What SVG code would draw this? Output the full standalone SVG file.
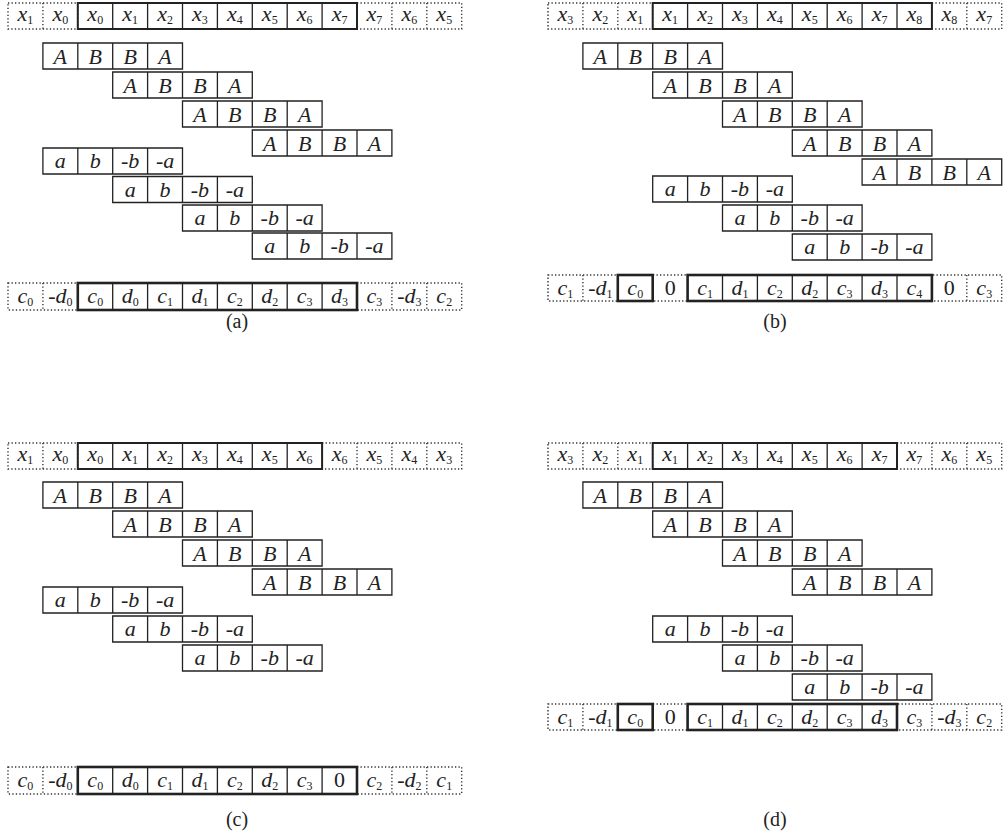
<svg xmlns="http://www.w3.org/2000/svg" width="1005" height="832" viewBox="0 0 1005 832">
<g id="panel-a" font-family="Liberation Serif" font-style="italic" font-size="22" text-anchor="middle" fill="#222" transform="translate(8,0)">
  <g id="a-x" transform="translate(0,3)">
    <path fill="none" stroke="#333" stroke-width="1.4" stroke-dasharray="1.3 2.2" d="M0 0H69.8V26H0ZM34.9 0V26M349 0H453.7V26H349ZM383.9 0V26M418.8 0V26"/>
    <path fill="none" stroke="#222" stroke-width="1.3" d="M104.7 0V26M139.6 0V26M174.5 0V26M209.4 0V26M244.3 0V26M279.2 0V26M314.1 0V26"/>
    <rect fill="none" stroke="#222" stroke-width="2" x="69.8" y="0" width="279.2" height="26"/>
    <text x="17.45" y="18">x<tspan font-size="12" font-style="normal" dy="3">1</tspan></text>
    <text x="52.35" y="18">x<tspan font-size="12" font-style="normal" dy="3">0</tspan></text>
    <text x="87.25" y="18">x<tspan font-size="12" font-style="normal" dy="3">0</tspan></text>
    <text x="122.15" y="18">x<tspan font-size="12" font-style="normal" dy="3">1</tspan></text>
    <text x="157.05" y="18">x<tspan font-size="12" font-style="normal" dy="3">2</tspan></text>
    <text x="191.95" y="18">x<tspan font-size="12" font-style="normal" dy="3">3</tspan></text>
    <text x="226.85" y="18">x<tspan font-size="12" font-style="normal" dy="3">4</tspan></text>
    <text x="261.75" y="18">x<tspan font-size="12" font-style="normal" dy="3">5</tspan></text>
    <text x="296.65" y="18">x<tspan font-size="12" font-style="normal" dy="3">6</tspan></text>
    <text x="331.55" y="18">x<tspan font-size="12" font-style="normal" dy="3">7</tspan></text>
    <text x="366.45" y="18">x<tspan font-size="12" font-style="normal" dy="3">7</tspan></text>
    <text x="401.35" y="18">x<tspan font-size="12" font-style="normal" dy="3">6</tspan></text>
    <text x="436.25" y="18">x<tspan font-size="12" font-style="normal" dy="3">5</tspan></text>
  </g>
  <g id="a-A1" transform="translate(34.9,43)"><path fill="none" stroke="#222" stroke-width="1.3" d="M0 0H139.6V26H0ZM34.9 0V26M69.8 0V26M104.7 0V26"/><text x="17.45" y="21">A</text><text x="52.35" y="21">B</text><text x="87.25" y="21">B</text><text x="122.15" y="21">A</text></g>
  <g id="a-A2" transform="translate(104.7,72)"><path fill="none" stroke="#222" stroke-width="1.3" d="M0 0H139.6V26H0ZM34.9 0V26M69.8 0V26M104.7 0V26"/><text x="17.45" y="21">A</text><text x="52.35" y="21">B</text><text x="87.25" y="21">B</text><text x="122.15" y="21">A</text></g>
  <g id="a-A3" transform="translate(174.5,101)"><path fill="none" stroke="#222" stroke-width="1.3" d="M0 0H139.6V26H0ZM34.9 0V26M69.8 0V26M104.7 0V26"/><text x="17.45" y="21">A</text><text x="52.35" y="21">B</text><text x="87.25" y="21">B</text><text x="122.15" y="21">A</text></g>
  <g id="a-A4" transform="translate(244.3,130)"><path fill="none" stroke="#222" stroke-width="1.3" d="M0 0H139.6V26H0ZM34.9 0V26M69.8 0V26M104.7 0V26"/><text x="17.45" y="21">A</text><text x="52.35" y="21">B</text><text x="87.25" y="21">B</text><text x="122.15" y="21">A</text></g>
  <g id="a-a1" transform="translate(34.9,148)"><path fill="none" stroke="#222" stroke-width="1.3" d="M0 0H139.6V26H0ZM34.9 0V26M69.8 0V26M104.7 0V26"/><text x="17.45" y="20">a</text><text x="52.35" y="20">b</text><text x="87.25" y="20">-b</text><text x="122.15" y="20">-a</text></g>
  <g id="a-a2" transform="translate(104.7,176.5)"><path fill="none" stroke="#222" stroke-width="1.3" d="M0 0H139.6V26H0ZM34.9 0V26M69.8 0V26M104.7 0V26"/><text x="17.45" y="20">a</text><text x="52.35" y="20">b</text><text x="87.25" y="20">-b</text><text x="122.15" y="20">-a</text></g>
  <g id="a-a3" transform="translate(174.5,205)"><path fill="none" stroke="#222" stroke-width="1.3" d="M0 0H139.6V26H0ZM34.9 0V26M69.8 0V26M104.7 0V26"/><text x="17.45" y="20">a</text><text x="52.35" y="20">b</text><text x="87.25" y="20">-b</text><text x="122.15" y="20">-a</text></g>
  <g id="a-a4" transform="translate(244.3,233)"><path fill="none" stroke="#222" stroke-width="1.3" d="M0 0H139.6V26H0ZM34.9 0V26M69.8 0V26M104.7 0V26"/><text x="17.45" y="20">a</text><text x="52.35" y="20">b</text><text x="87.25" y="20">-b</text><text x="122.15" y="20">-a</text></g>
  <g id="a-c" transform="translate(0,283)">
    <path fill="none" stroke="#333" stroke-width="1.4" stroke-dasharray="1.3 2.2" d="M0 0H69.8V27H0ZM34.9 0V27M349 0H453.7V27H349ZM383.9 0V27M418.8 0V27"/>
    <path fill="none" stroke="#222" stroke-width="1.3" d="M104.7 0V27M139.6 0V27M174.5 0V27M209.4 0V27M244.3 0V27M279.2 0V27M314.1 0V27"/>
    <rect fill="none" stroke="#222" stroke-width="2.6" x="69.8" y="0" width="279.2" height="27"/>
    <text x="17.45" y="20">c<tspan font-size="12" font-style="normal" dy="3">0</tspan></text>
    <text x="52.35" y="20">-d<tspan font-size="12" font-style="normal" dy="3">0</tspan></text>
    <text x="87.25" y="20">c<tspan font-size="12" font-style="normal" dy="3">0</tspan></text>
    <text x="122.15" y="20">d<tspan font-size="12" font-style="normal" dy="3">0</tspan></text>
    <text x="157.05" y="20">c<tspan font-size="12" font-style="normal" dy="3">1</tspan></text>
    <text x="191.95" y="20">d<tspan font-size="12" font-style="normal" dy="3">1</tspan></text>
    <text x="226.85" y="20">c<tspan font-size="12" font-style="normal" dy="3">2</tspan></text>
    <text x="261.75" y="20">d<tspan font-size="12" font-style="normal" dy="3">2</tspan></text>
    <text x="296.65" y="20">c<tspan font-size="12" font-style="normal" dy="3">3</tspan></text>
    <text x="331.55" y="20">d<tspan font-size="12" font-style="normal" dy="3">3</tspan></text>
    <text x="366.45" y="20">c<tspan font-size="12" font-style="normal" dy="3">3</tspan></text>
    <text x="401.35" y="20">-d<tspan font-size="12" font-style="normal" dy="3">3</tspan></text>
    <text x="436.25" y="20">c<tspan font-size="12" font-style="normal" dy="3">2</tspan></text>
  </g>
</g>
<text id="label-a" font-family="Liberation Serif" font-size="20" text-anchor="middle" fill="#222" x="237" y="328">(a)</text>

<g id="panel-b" font-family="Liberation Serif" font-style="italic" font-size="22" text-anchor="middle" fill="#222" transform="translate(548,0)">
  <g id="b-x" transform="translate(0,3)">
    <path fill="none" stroke="#333" stroke-width="1.4" stroke-dasharray="1.3 2.2" d="M0 0H104.7V26H0ZM34.9 0V26M69.8 0V26M383.9 0H453.7V26H383.9ZM418.8 0V26"/>
    <path fill="none" stroke="#222" stroke-width="1.3" d="M139.6 0V26M174.5 0V26M209.4 0V26M244.3 0V26M279.2 0V26M314.1 0V26M349 0V26"/>
    <rect fill="none" stroke="#222" stroke-width="2" x="104.7" y="0" width="279.2" height="26"/>
    <text x="17.45" y="18">x<tspan font-size="12" font-style="normal" dy="3">3</tspan></text>
    <text x="52.35" y="18">x<tspan font-size="12" font-style="normal" dy="3">2</tspan></text>
    <text x="87.25" y="18">x<tspan font-size="12" font-style="normal" dy="3">1</tspan></text>
    <text x="122.15" y="18">x<tspan font-size="12" font-style="normal" dy="3">1</tspan></text>
    <text x="157.05" y="18">x<tspan font-size="12" font-style="normal" dy="3">2</tspan></text>
    <text x="191.95" y="18">x<tspan font-size="12" font-style="normal" dy="3">3</tspan></text>
    <text x="226.85" y="18">x<tspan font-size="12" font-style="normal" dy="3">4</tspan></text>
    <text x="261.75" y="18">x<tspan font-size="12" font-style="normal" dy="3">5</tspan></text>
    <text x="296.65" y="18">x<tspan font-size="12" font-style="normal" dy="3">6</tspan></text>
    <text x="331.55" y="18">x<tspan font-size="12" font-style="normal" dy="3">7</tspan></text>
    <text x="366.45" y="18">x<tspan font-size="12" font-style="normal" dy="3">8</tspan></text>
    <text x="401.35" y="18">x<tspan font-size="12" font-style="normal" dy="3">8</tspan></text>
    <text x="436.25" y="18">x<tspan font-size="12" font-style="normal" dy="3">7</tspan></text>
  </g>
  <g id="b-A1" transform="translate(34.9,43)"><path fill="none" stroke="#222" stroke-width="1.3" d="M0 0H139.6V26H0ZM34.9 0V26M69.8 0V26M104.7 0V26"/><text x="17.45" y="21">A</text><text x="52.35" y="21">B</text><text x="87.25" y="21">B</text><text x="122.15" y="21">A</text></g>
  <g id="b-A2" transform="translate(104.7,72)"><path fill="none" stroke="#222" stroke-width="1.3" d="M0 0H139.6V26H0ZM34.9 0V26M69.8 0V26M104.7 0V26"/><text x="17.45" y="21">A</text><text x="52.35" y="21">B</text><text x="87.25" y="21">B</text><text x="122.15" y="21">A</text></g>
  <g id="b-A3" transform="translate(174.5,101)"><path fill="none" stroke="#222" stroke-width="1.3" d="M0 0H139.6V26H0ZM34.9 0V26M69.8 0V26M104.7 0V26"/><text x="17.45" y="21">A</text><text x="52.35" y="21">B</text><text x="87.25" y="21">B</text><text x="122.15" y="21">A</text></g>
  <g id="b-A4" transform="translate(244.3,130)"><path fill="none" stroke="#222" stroke-width="1.3" d="M0 0H139.6V26H0ZM34.9 0V26M69.8 0V26M104.7 0V26"/><text x="17.45" y="21">A</text><text x="52.35" y="21">B</text><text x="87.25" y="21">B</text><text x="122.15" y="21">A</text></g>
  <g id="b-A5" transform="translate(314.1,159)"><path fill="none" stroke="#222" stroke-width="1.3" d="M0 0H139.6V26H0ZM34.9 0V26M69.8 0V26M104.7 0V26"/><text x="17.45" y="21">A</text><text x="52.35" y="21">B</text><text x="87.25" y="21">B</text><text x="122.15" y="21">A</text></g>
  <g id="b-a1" transform="translate(104.7,176)"><path fill="none" stroke="#222" stroke-width="1.3" d="M0 0H139.6V26H0ZM34.9 0V26M69.8 0V26M104.7 0V26"/><text x="17.45" y="20">a</text><text x="52.35" y="20">b</text><text x="87.25" y="20">-b</text><text x="122.15" y="20">-a</text></g>
  <g id="b-a2" transform="translate(174.5,205)"><path fill="none" stroke="#222" stroke-width="1.3" d="M0 0H139.6V26H0ZM34.9 0V26M69.8 0V26M104.7 0V26"/><text x="17.45" y="20">a</text><text x="52.35" y="20">b</text><text x="87.25" y="20">-b</text><text x="122.15" y="20">-a</text></g>
  <g id="b-a3" transform="translate(244.3,234)"><path fill="none" stroke="#222" stroke-width="1.3" d="M0 0H139.6V26H0ZM34.9 0V26M69.8 0V26M104.7 0V26"/><text x="17.45" y="20">a</text><text x="52.35" y="20">b</text><text x="87.25" y="20">-b</text><text x="122.15" y="20">-a</text></g>
  <g id="b-c" transform="translate(0,275)">
    <path fill="none" stroke="#333" stroke-width="1.4" stroke-dasharray="1.3 2.2" d="M0 0H453.7V26H0ZM34.9 0V26M418.8 0V26"/>
    <path fill="none" stroke="#222" stroke-width="1.3" d="M174.5 0V26M209.4 0V26M244.3 0V26M279.2 0V26M314.1 0V26M349 0V26"/>
    <rect fill="none" stroke="#222" stroke-width="2.6" x="69.8" y="0" width="34.9" height="26"/>
    <rect fill="none" stroke="#222" stroke-width="2.6" x="139.6" y="0" width="244.3" height="26"/>
    <text x="17.45" y="20">c<tspan font-size="12" font-style="normal" dy="3">1</tspan></text>
    <text x="52.35" y="20">-d<tspan font-size="12" font-style="normal" dy="3">1</tspan></text>
    <text x="87.25" y="20">c<tspan font-size="12" font-style="normal" dy="3">0</tspan></text>
    <text font-style="normal" x="122.15" y="20">0</text>
    <text x="157.05" y="20">c<tspan font-size="12" font-style="normal" dy="3">1</tspan></text>
    <text x="191.95" y="20">d<tspan font-size="12" font-style="normal" dy="3">1</tspan></text>
    <text x="226.85" y="20">c<tspan font-size="12" font-style="normal" dy="3">2</tspan></text>
    <text x="261.75" y="20">d<tspan font-size="12" font-style="normal" dy="3">2</tspan></text>
    <text x="296.65" y="20">c<tspan font-size="12" font-style="normal" dy="3">3</tspan></text>
    <text x="331.55" y="20">d<tspan font-size="12" font-style="normal" dy="3">3</tspan></text>
    <text x="366.45" y="20">c<tspan font-size="12" font-style="normal" dy="3">4</tspan></text>
    <text font-style="normal" x="401.35" y="20">0</text>
    <text x="436.25" y="20">c<tspan font-size="12" font-style="normal" dy="3">3</tspan></text>
  </g>
</g>
<text id="label-b" font-family="Liberation Serif" font-size="20" text-anchor="middle" fill="#222" x="775" y="328">(b)</text>

<g id="panel-c" font-family="Liberation Serif" font-style="italic" font-size="22" text-anchor="middle" fill="#222" transform="translate(8,0)">
  <g id="c-x" transform="translate(0,443)">
    <path fill="none" stroke="#333" stroke-width="1.4" stroke-dasharray="1.3 2.2" d="M0 0H69.8V26H0ZM34.9 0V26M314.1 0H453.7V26H314.1ZM349 0V26M383.9 0V26M418.8 0V26"/>
    <path fill="none" stroke="#222" stroke-width="1.3" d="M104.7 0V26M139.6 0V26M174.5 0V26M209.4 0V26M244.3 0V26M279.2 0V26"/>
    <rect fill="none" stroke="#222" stroke-width="2" x="69.8" y="0" width="244.3" height="26"/>
    <text x="17.45" y="18">x<tspan font-size="12" font-style="normal" dy="3">1</tspan></text>
    <text x="52.35" y="18">x<tspan font-size="12" font-style="normal" dy="3">0</tspan></text>
    <text x="87.25" y="18">x<tspan font-size="12" font-style="normal" dy="3">0</tspan></text>
    <text x="122.15" y="18">x<tspan font-size="12" font-style="normal" dy="3">1</tspan></text>
    <text x="157.05" y="18">x<tspan font-size="12" font-style="normal" dy="3">2</tspan></text>
    <text x="191.95" y="18">x<tspan font-size="12" font-style="normal" dy="3">3</tspan></text>
    <text x="226.85" y="18">x<tspan font-size="12" font-style="normal" dy="3">4</tspan></text>
    <text x="261.75" y="18">x<tspan font-size="12" font-style="normal" dy="3">5</tspan></text>
    <text x="296.65" y="18">x<tspan font-size="12" font-style="normal" dy="3">6</tspan></text>
    <text x="331.55" y="18">x<tspan font-size="12" font-style="normal" dy="3">6</tspan></text>
    <text x="366.45" y="18">x<tspan font-size="12" font-style="normal" dy="3">5</tspan></text>
    <text x="401.35" y="18">x<tspan font-size="12" font-style="normal" dy="3">4</tspan></text>
    <text x="436.25" y="18">x<tspan font-size="12" font-style="normal" dy="3">3</tspan></text>
  </g>
  <g id="c-A1" transform="translate(34.9,482)"><path fill="none" stroke="#222" stroke-width="1.3" d="M0 0H139.6V26H0ZM34.9 0V26M69.8 0V26M104.7 0V26"/><text x="17.45" y="21">A</text><text x="52.35" y="21">B</text><text x="87.25" y="21">B</text><text x="122.15" y="21">A</text></g>
  <g id="c-A2" transform="translate(104.7,511)"><path fill="none" stroke="#222" stroke-width="1.3" d="M0 0H139.6V26H0ZM34.9 0V26M69.8 0V26M104.7 0V26"/><text x="17.45" y="21">A</text><text x="52.35" y="21">B</text><text x="87.25" y="21">B</text><text x="122.15" y="21">A</text></g>
  <g id="c-A3" transform="translate(174.5,540)"><path fill="none" stroke="#222" stroke-width="1.3" d="M0 0H139.6V26H0ZM34.9 0V26M69.8 0V26M104.7 0V26"/><text x="17.45" y="21">A</text><text x="52.35" y="21">B</text><text x="87.25" y="21">B</text><text x="122.15" y="21">A</text></g>
  <g id="c-A4" transform="translate(244.3,569)"><path fill="none" stroke="#222" stroke-width="1.3" d="M0 0H139.6V26H0ZM34.9 0V26M69.8 0V26M104.7 0V26"/><text x="17.45" y="21">A</text><text x="52.35" y="21">B</text><text x="87.25" y="21">B</text><text x="122.15" y="21">A</text></g>
  <g id="c-a1" transform="translate(34.9,587)"><path fill="none" stroke="#222" stroke-width="1.3" d="M0 0H139.6V26H0ZM34.9 0V26M69.8 0V26M104.7 0V26"/><text x="17.45" y="20">a</text><text x="52.35" y="20">b</text><text x="87.25" y="20">-b</text><text x="122.15" y="20">-a</text></g>
  <g id="c-a2" transform="translate(104.7,616)"><path fill="none" stroke="#222" stroke-width="1.3" d="M0 0H139.6V26H0ZM34.9 0V26M69.8 0V26M104.7 0V26"/><text x="17.45" y="20">a</text><text x="52.35" y="20">b</text><text x="87.25" y="20">-b</text><text x="122.15" y="20">-a</text></g>
  <g id="c-a3" transform="translate(174.5,645)"><path fill="none" stroke="#222" stroke-width="1.3" d="M0 0H139.6V26H0ZM34.9 0V26M69.8 0V26M104.7 0V26"/><text x="17.45" y="20">a</text><text x="52.35" y="20">b</text><text x="87.25" y="20">-b</text><text x="122.15" y="20">-a</text></g>
  <g id="c-c" transform="translate(0,767)">
    <path fill="none" stroke="#333" stroke-width="1.4" stroke-dasharray="1.3 2.2" d="M0 0H69.8V27H0ZM34.9 0V27M349 0H453.7V27H349ZM383.9 0V27M418.8 0V27"/>
    <path fill="none" stroke="#222" stroke-width="1.3" d="M104.7 0V27M139.6 0V27M174.5 0V27M209.4 0V27M244.3 0V27M279.2 0V27M314.1 0V27"/>
    <rect fill="none" stroke="#222" stroke-width="2.6" x="69.8" y="0" width="279.2" height="27"/>
    <text x="17.45" y="20">c<tspan font-size="12" font-style="normal" dy="3">0</tspan></text>
    <text x="52.35" y="20">-d<tspan font-size="12" font-style="normal" dy="3">0</tspan></text>
    <text x="87.25" y="20">c<tspan font-size="12" font-style="normal" dy="3">0</tspan></text>
    <text x="122.15" y="20">d<tspan font-size="12" font-style="normal" dy="3">0</tspan></text>
    <text x="157.05" y="20">c<tspan font-size="12" font-style="normal" dy="3">1</tspan></text>
    <text x="191.95" y="20">d<tspan font-size="12" font-style="normal" dy="3">1</tspan></text>
    <text x="226.85" y="20">c<tspan font-size="12" font-style="normal" dy="3">2</tspan></text>
    <text x="261.75" y="20">d<tspan font-size="12" font-style="normal" dy="3">2</tspan></text>
    <text x="296.65" y="20">c<tspan font-size="12" font-style="normal" dy="3">3</tspan></text>
    <text font-style="normal" x="331.55" y="20">0</text>
    <text x="366.45" y="20">c<tspan font-size="12" font-style="normal" dy="3">2</tspan></text>
    <text x="401.35" y="20">-d<tspan font-size="12" font-style="normal" dy="3">2</tspan></text>
    <text x="436.25" y="20">c<tspan font-size="12" font-style="normal" dy="3">1</tspan></text>
  </g>
</g>
<text id="label-c" font-family="Liberation Serif" font-size="20" text-anchor="middle" fill="#222" x="237" y="826">(c)</text>

<g id="panel-d" font-family="Liberation Serif" font-style="italic" font-size="22" text-anchor="middle" fill="#222" transform="translate(548,0)">
  <g id="d-x" transform="translate(0,443)">
    <path fill="none" stroke="#333" stroke-width="1.4" stroke-dasharray="1.3 2.2" d="M0 0H104.7V26H0ZM34.9 0V26M69.8 0V26M349 0H453.7V26H349ZM383.9 0V26M418.8 0V26"/>
    <path fill="none" stroke="#222" stroke-width="1.3" d="M139.6 0V26M174.5 0V26M209.4 0V26M244.3 0V26M279.2 0V26M314.1 0V26"/>
    <rect fill="none" stroke="#222" stroke-width="2" x="104.7" y="0" width="244.3" height="26"/>
    <text x="17.45" y="18">x<tspan font-size="12" font-style="normal" dy="3">3</tspan></text>
    <text x="52.35" y="18">x<tspan font-size="12" font-style="normal" dy="3">2</tspan></text>
    <text x="87.25" y="18">x<tspan font-size="12" font-style="normal" dy="3">1</tspan></text>
    <text x="122.15" y="18">x<tspan font-size="12" font-style="normal" dy="3">1</tspan></text>
    <text x="157.05" y="18">x<tspan font-size="12" font-style="normal" dy="3">2</tspan></text>
    <text x="191.95" y="18">x<tspan font-size="12" font-style="normal" dy="3">3</tspan></text>
    <text x="226.85" y="18">x<tspan font-size="12" font-style="normal" dy="3">4</tspan></text>
    <text x="261.75" y="18">x<tspan font-size="12" font-style="normal" dy="3">5</tspan></text>
    <text x="296.65" y="18">x<tspan font-size="12" font-style="normal" dy="3">6</tspan></text>
    <text x="331.55" y="18">x<tspan font-size="12" font-style="normal" dy="3">7</tspan></text>
    <text x="366.45" y="18">x<tspan font-size="12" font-style="normal" dy="3">7</tspan></text>
    <text x="401.35" y="18">x<tspan font-size="12" font-style="normal" dy="3">6</tspan></text>
    <text x="436.25" y="18">x<tspan font-size="12" font-style="normal" dy="3">5</tspan></text>
  </g>
  <g id="d-A1" transform="translate(34.9,482)"><path fill="none" stroke="#222" stroke-width="1.3" d="M0 0H139.6V26H0ZM34.9 0V26M69.8 0V26M104.7 0V26"/><text x="17.45" y="21">A</text><text x="52.35" y="21">B</text><text x="87.25" y="21">B</text><text x="122.15" y="21">A</text></g>
  <g id="d-A2" transform="translate(104.7,511)"><path fill="none" stroke="#222" stroke-width="1.3" d="M0 0H139.6V26H0ZM34.9 0V26M69.8 0V26M104.7 0V26"/><text x="17.45" y="21">A</text><text x="52.35" y="21">B</text><text x="87.25" y="21">B</text><text x="122.15" y="21">A</text></g>
  <g id="d-A3" transform="translate(174.5,540)"><path fill="none" stroke="#222" stroke-width="1.3" d="M0 0H139.6V26H0ZM34.9 0V26M69.8 0V26M104.7 0V26"/><text x="17.45" y="21">A</text><text x="52.35" y="21">B</text><text x="87.25" y="21">B</text><text x="122.15" y="21">A</text></g>
  <g id="d-A4" transform="translate(244.3,569)"><path fill="none" stroke="#222" stroke-width="1.3" d="M0 0H139.6V26H0ZM34.9 0V26M69.8 0V26M104.7 0V26"/><text x="17.45" y="21">A</text><text x="52.35" y="21">B</text><text x="87.25" y="21">B</text><text x="122.15" y="21">A</text></g>
  <g id="d-a1" transform="translate(104.7,616)"><path fill="none" stroke="#222" stroke-width="1.3" d="M0 0H139.6V26H0ZM34.9 0V26M69.8 0V26M104.7 0V26"/><text x="17.45" y="20">a</text><text x="52.35" y="20">b</text><text x="87.25" y="20">-b</text><text x="122.15" y="20">-a</text></g>
  <g id="d-a2" transform="translate(174.5,645)"><path fill="none" stroke="#222" stroke-width="1.3" d="M0 0H139.6V26H0ZM34.9 0V26M69.8 0V26M104.7 0V26"/><text x="17.45" y="20">a</text><text x="52.35" y="20">b</text><text x="87.25" y="20">-b</text><text x="122.15" y="20">-a</text></g>
  <g id="d-a3" transform="translate(244.3,674)"><path fill="none" stroke="#222" stroke-width="1.3" d="M0 0H139.6V26H0ZM34.9 0V26M69.8 0V26M104.7 0V26"/><text x="17.45" y="20">a</text><text x="52.35" y="20">b</text><text x="87.25" y="20">-b</text><text x="122.15" y="20">-a</text></g>
  <g id="d-c" transform="translate(0,704)">
    <path fill="none" stroke="#333" stroke-width="1.4" stroke-dasharray="1.3 2.2" d="M0 0H453.7V26H0ZM34.9 0V26M383.9 0V26M418.8 0V26"/>
    <path fill="none" stroke="#222" stroke-width="1.3" d="M174.5 0V26M209.4 0V26M244.3 0V26M279.2 0V26M314.1 0V26"/>
    <rect fill="none" stroke="#222" stroke-width="2.6" x="69.8" y="0" width="34.9" height="26"/>
    <rect fill="none" stroke="#222" stroke-width="2.6" x="139.6" y="0" width="209.4" height="26"/>
    <text x="17.45" y="20">c<tspan font-size="12" font-style="normal" dy="3">1</tspan></text>
    <text x="52.35" y="20">-d<tspan font-size="12" font-style="normal" dy="3">1</tspan></text>
    <text x="87.25" y="20">c<tspan font-size="12" font-style="normal" dy="3">0</tspan></text>
    <text font-style="normal" x="122.15" y="20">0</text>
    <text x="157.05" y="20">c<tspan font-size="12" font-style="normal" dy="3">1</tspan></text>
    <text x="191.95" y="20">d<tspan font-size="12" font-style="normal" dy="3">1</tspan></text>
    <text x="226.85" y="20">c<tspan font-size="12" font-style="normal" dy="3">2</tspan></text>
    <text x="261.75" y="20">d<tspan font-size="12" font-style="normal" dy="3">2</tspan></text>
    <text x="296.65" y="20">c<tspan font-size="12" font-style="normal" dy="3">3</tspan></text>
    <text x="331.55" y="20">d<tspan font-size="12" font-style="normal" dy="3">3</tspan></text>
    <text x="366.45" y="20">c<tspan font-size="12" font-style="normal" dy="3">3</tspan></text>
    <text x="401.35" y="20">-d<tspan font-size="12" font-style="normal" dy="3">3</tspan></text>
    <text x="436.25" y="20">c<tspan font-size="12" font-style="normal" dy="3">2</tspan></text>
  </g>
</g>
<text id="label-d" font-family="Liberation Serif" font-size="20" text-anchor="middle" fill="#222" x="775" y="826">(d)</text>
</svg>
